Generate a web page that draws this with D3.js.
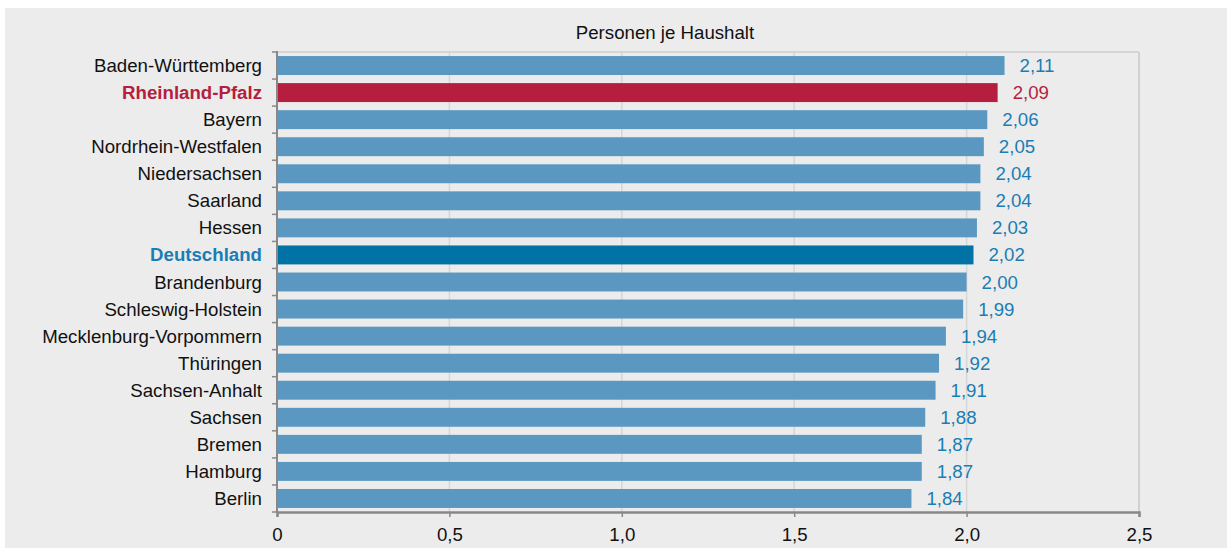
<!DOCTYPE html>
<html><head><meta charset="utf-8">
<script src="https://cdn.jsdelivr.net/npm/d3@7"></script>
<style>
html,body{margin:0;padding:0;background:#fff;}
text{font-family:"Liberation Sans",Arial,sans-serif;}
</style></head>
<body>
<svg id="c" width="1230" height="548"></svg>
<script>
const categories = ["Baden-Württemberg","Rheinland-Pfalz","Bayern","Nordrhein-Westfalen","Niedersachsen","Saarland","Hessen","Deutschland","Brandenburg","Schleswig-Holstein","Mecklenburg-Vorpommern","Thüringen","Sachsen-Anhalt","Sachsen","Bremen","Hamburg","Berlin"];
const values = [2.11,2.09,2.06,2.05,2.04,2.04,2.03,2.02,2.00,1.99,1.94,1.92,1.91,1.88,1.87,1.87,1.84];
const xTicks = [0,0.5,1.0,1.5,2.0,2.5];
const title = "Personen je Haushalt";

const svg = d3.select("#c");
const fs = "18.67px";
svg.append("rect").attr("x",5).attr("y",8).attr("width",1222).attr("height",540).attr("fill","#ececec");

const L=277, R=1139, T=52, B=512;
const x = d3.scaleLinear().domain([0,2.5]).range([L,R]);
const y = d3.scaleBand().domain(categories).range([T,B]).paddingInner(0.3).paddingOuter(0.15);
const fmt = v => d3.format(".2f")(v).replace(".",",");
const colorBar = c => c==="Rheinland-Pfalz" ? "#b51e3f" : c==="Deutschland" ? "#0072a6" : "#5b98c1";
const colorText = c => c==="Rheinland-Pfalz" ? "#b51e3f" : c==="Deutschland" ? "#1a7db5" : "#111";

// grid
svg.append("g").selectAll("line").data(xTicks.slice(1)).join("line")
  .attr("x1",d=>x(d)).attr("x2",d=>x(d)).attr("y1",T).attr("y2",B)
  .attr("stroke",d=>d===2.5?"#c8c8c8":"#d6d6d6").attr("stroke-width",1.5);
svg.append("line").attr("x1",L).attr("x2",R).attr("y1",T).attr("y2",T).attr("stroke","#cfcfcf").attr("stroke-width",1.5);

// bars
svg.append("g").selectAll("rect").data(categories).join("rect")
  .attr("x",x(0)).attr("y",c=>y(c)).attr("height",y.bandwidth())
  .attr("width",(c,i)=>x(values[i])-x(0)).attr("fill",colorBar);

// value labels
svg.append("g").selectAll("text").data(categories).join("text")
  .attr("x",(c,i)=>x(values[i])+15).attr("y",c=>y(c)+y.bandwidth()/2)
  .attr("dy","0.35em").attr("font-size",fs)
  .attr("fill",c=>c==="Rheinland-Pfalz"?"#b51e3f":"#1a7db5")
  .text((c,i)=>fmt(values[i]));

// left axis
const step = y.step();
const bounds = d3.range(categories.length+1).map(i=>T + i*(B-T)/categories.length);
svg.append("line").attr("x1",L).attr("x2",L).attr("y1",T-1).attr("y2",B).attr("stroke","#888").attr("stroke-width",2);
svg.append("g").selectAll("line").data(bounds).join("line")
  .attr("x1",L-5).attr("x2",L).attr("y1",d=>d).attr("y2",d=>d).attr("stroke","#888").attr("stroke-width",1.5);
svg.append("g").selectAll("text").data(categories).join("text")
  .attr("x",L-15).attr("y",c=>y(c)+y.bandwidth()/2).attr("dy","0.35em")
  .attr("text-anchor","end").attr("font-size",fs)
  .attr("font-weight",c=>(c==="Rheinland-Pfalz"||c==="Deutschland")?"bold":"normal")
  .attr("fill",colorText).text(c=>c);

// bottom axis
const xa = svg.append("g").attr("transform",`translate(0,${B})`)
  .call(d3.axisBottom(x).tickValues(xTicks).tickSize(5).tickPadding(11)
    .tickFormat(d=>d===0?"0":d3.format(".1f")(d).replace(".",",")));
xa.select(".domain").attr("stroke","#888").attr("stroke-width",2.5);
xa.selectAll(".tick line").attr("stroke","#888").attr("stroke-width",1.5);
xa.selectAll(".tick text").attr("font-size",fs).attr("fill","#111").attr("font-family","'Liberation Sans',Arial,sans-serif");

// title
svg.append("text").attr("x",665).attr("y",39).attr("text-anchor","middle").attr("font-size",fs).attr("fill","#111").text(title);
</script>
</body></html>
